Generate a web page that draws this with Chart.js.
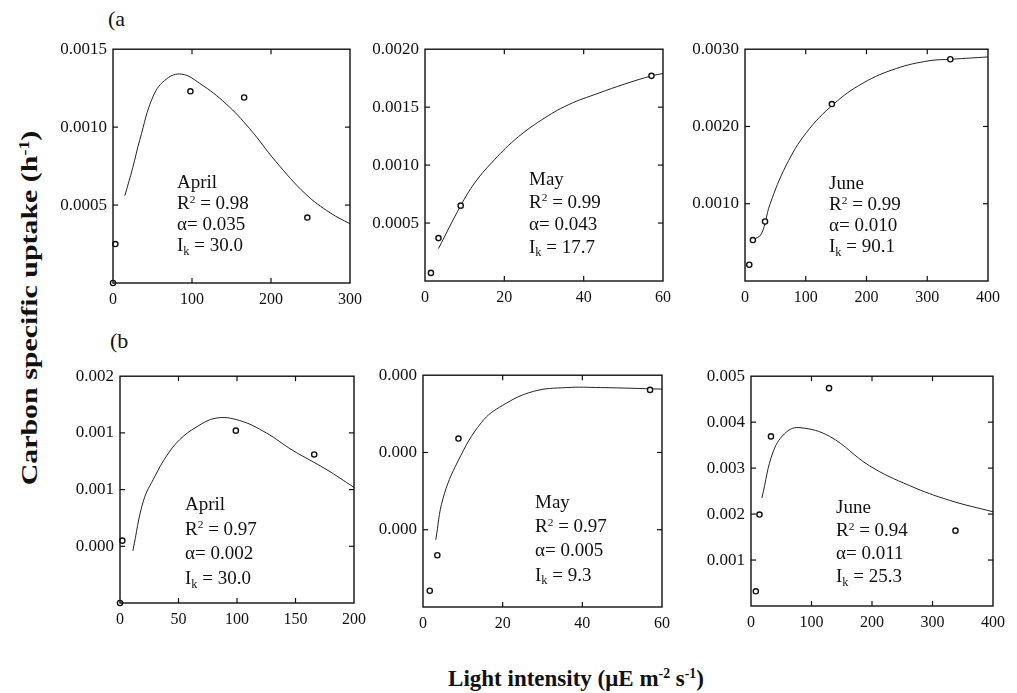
<!DOCTYPE html>
<html>
<head>
<meta charset="utf-8">
<script src="https://cdn.jsdelivr.net/npm/chart.js@4/dist/chart.umd.min.js"></script>
<style>
  html, body { margin: 0; padding: 0; background: #fff; }
  #wrap { position: relative; width: 1017px; height: 693px; overflow: hidden; background: #fff; font-family: "Liberation Serif", "Times New Roman", serif; color: #111; }
  canvas { position: absolute; }
  .ann { position: absolute; font-size: 19px; white-space: nowrap; }
  .ann div { height: var(--lh); line-height: var(--lh); }
  .sup { font-size: 0.6em; position: relative; top: -0.55em; }
  .sub { font-size: 0.65em; position: relative; top: 0.3em; }
  .ytitle { position: absolute; left: 30px; top: 308px; font-weight: bold; font-size: 23px; white-space: nowrap;
            transform: translate(-50%, -50%) rotate(-90deg) scaleX(1.3); }
  .xtitle { position: absolute; left: 576px; top: 666px; font-weight: bold; font-size: 23px; line-height: 26px; white-space: nowrap;
            transform: translateX(-50%); }
  .plabel { position: absolute; font-size: 22px; }
</style>
</head>
<body>
<div id="wrap">
  <div class="plabel" style="left:108px; top:6px;">(a</div>
  <div class="plabel" style="left:110px; top:328px;">(b</div>
  <div class="ytitle">Carbon specific uptake (h<span class="sup">-1</span>)</div>
  <div class="xtitle">Light intensity (μE m<span class="sup">-2</span> s<span class="sup">-1</span>)</div>
</div>
<script>
// ---------- DATA ----------
// (a) April
const aprA_x = [0, 3, 98, 166, 246];
const aprA_y = [0, 0.00025, 0.00123, 0.00119, 0.00042];
const aprA_fitX = [15, 25, 34, 51, 68, 87, 110, 143, 173, 206, 244, 275, 300];
const aprA_fitY = [0.00056, 0.00074, 0.00092, 0.00120, 0.00131, 0.00134, 0.00128, 0.00115, 0.00099, 0.00078, 0.00057, 0.00045, 0.00038];
const aprA_text = ["April", "0.98", "0.035", "30.0"];
// (a) May
const mayA_x = [1.5, 3.4, 9.0, 57.1];
const mayA_y = [0.00007, 0.00037, 0.00065, 0.00177];
const mayA_fitX = [3.4, 9, 12.6, 16.8, 22.7, 29.4, 36.1, 43.7, 50.4, 57.1, 60];
const mayA_fitY = [0.00028, 0.00065, 0.00085, 0.00102, 0.00122, 0.00139, 0.00152, 0.00162, 0.00170, 0.00177, 0.00179];
const mayA_text = ["May", "0.99", "0.043", "17.7"];
// (a) June
const junA_x = [7, 13, 33, 143, 338];
const junA_y = [0.00021, 0.00053, 0.00077, 0.00229, 0.00287];
const junA_fitX = [13, 27, 41, 68, 101, 146, 194, 249, 303, 340, 400];
const junA_fitY = [0.00053, 0.00061, 0.00099, 0.00150, 0.00192, 0.00229, 0.00256, 0.00275, 0.00285, 0.00287, 0.00290];
const junA_text = ["June", "0.99", "0.010", "90.1"];
// (b) April
const aprB_x = [0, 2, 99, 166];
const aprB_y = [0, 0.00055, 0.00152, 0.00131];
const aprB_fitX = [11, 20, 30, 40, 51, 65, 82, 102, 125, 147, 176, 200];
const aprB_fitY = [0.00046, 0.00090, 0.00112, 0.00130, 0.00144, 0.00155, 0.00163, 0.00161, 0.00150, 0.00135, 0.00118, 0.00102];
const aprB_text = ["April", "0.97", "0.002", "30.0"];
// (b) May
const mayB_x = [1.7, 3.6, 8.9, 57];
const mayB_y = [0.000021, 0.000067, 0.000218, 0.000281];
const mayB_fitX = [3.2, 5, 8.8, 14.7, 20, 27.7, 36, 44.5, 60];
const mayB_fitY = [0.000087, 0.00014, 0.000189, 0.000239, 0.000261, 0.000279, 0.000284, 0.000284, 0.000282];
const mayB_text = ["May", "0.97", "0.005", "9.3"];
// (b) June
const junB_x = [8, 14, 33, 129, 338];
const junB_y = [0.00032, 0.00199, 0.00369, 0.00474, 0.00164];
const junB_fitX = [18, 37, 59, 81, 130, 196, 262, 328, 400];
const junB_fitY = [0.00235, 0.00337, 0.00379, 0.00388, 0.00369, 0.00305, 0.00262, 0.00230, 0.00205];
const junB_text = ["June", "0.94", "0.011", "25.3"];

// tick labels
const xTicks300 = ["0", "100", "200", "300"];
const xTicks60 = ["0", "20", "40", "60"];
const xTicks400 = ["0", "100", "200", "300", "400"];
const xTicks200 = ["0", "50", "100", "150", "200"];
const yTicksAprA = ["", "0.0005", "0.0010", "0.0015"];
const yTicksMayA = ["", "0.0005", "0.0010", "0.0015", "0.0020"];
const yTicksJunA = ["", "0.0010", "0.0020", "0.0030"];
const yTicksAprB = ["", "0.000", "0.001", "0.001", "0.002"];
const yTicksMayB = ["", "0.000", "0.000", "0.000"];
const yTicksJunB = ["", "0.001", "0.002", "0.003", "0.004", "0.005"];

// ---------- LAYOUT ----------
const panels = [
  { px: aprA_x, py: aprA_y, fx: aprA_fitX, fy: aprA_fitY, text: aprA_text, xt: xTicks300, yt: yTicksAprA,
    xmax: 300, xstep: 100, ymax: 0.0015, ystep: 0.0005,
    box: { l: 113, t: 45, w: 238, h: 238 }, ann: { l: 177, t: 171, lh: 21 } },
  { px: mayA_x, py: mayA_y, fx: mayA_fitX, fy: mayA_fitY, text: mayA_text, xt: xTicks60, yt: yTicksMayA,
    xmax: 60, xstep: 20, ymax: 0.0020, ystep: 0.0005,
    box: { l: 425, t: 45, w: 238, h: 236 }, ann: { l: 529, t: 168, lh: 22.5 } },
  { px: junA_x, py: junA_y, fx: junA_fitX, fy: junA_fitY, text: junA_text, xt: xTicks400, yt: yTicksJunA,
    xmax: 400, xstep: 100, ymax: 0.0030, ystep: 0.0010,
    box: { l: 745, t: 45, w: 244, h: 236 }, ann: { l: 829, t: 172, lh: 21 } },
  { px: aprB_x, py: aprB_y, fx: aprB_fitX, fy: aprB_fitY, text: aprB_text, xt: xTicks200, yt: yTicksAprB,
    xmax: 200, xstep: 50, ymax: 0.0020, ystep: 0.0005,
    box: { l: 120, t: 372, w: 235, h: 231 }, ann: { l: 185, t: 492, lh: 24.7 } },
  { px: mayB_x, py: mayB_y, fx: mayB_fitX, fy: mayB_fitY, text: mayB_text, xt: xTicks60, yt: yTicksMayB,
    xmax: 60, xstep: 20, ymax: 0.0003, ystep: 0.0001,
    box: { l: 423, t: 371, w: 239, h: 236 }, ann: { l: 535, t: 489.5, lh: 24.4 } },
  { px: junB_x, py: junB_y, fx: junB_fitX, fy: junB_fitY, text: junB_text, xt: xTicks400, yt: yTicksJunB,
    xmax: 400, xstep: 100, ymax: 0.0050, ystep: 0.0010,
    box: { l: 751, t: 372, w: 243, h: 234 }, ann: { l: 836, t: 494.5, lh: 23.3 } }
];

const PAD_L = 75, PAD_T = 12, PAD_R = 18, PAD_B = 34;
const INK = "#111";

const boxPlugin = {
  id: "boxTicks",
  afterDatasetsDraw(chart) {
    const { ctx, chartArea: a, scales: { x, y } } = chart;
    ctx.save();
    ctx.strokeStyle = INK;
    ctx.lineWidth = 1.4;
    ctx.strokeRect(a.left, a.top, a.right - a.left, a.bottom - a.top);
    ctx.lineWidth = 1.2;
    const L = 5;
    const seg = (x1, y1, x2, y2) => { ctx.beginPath(); ctx.moveTo(x1, y1); ctx.lineTo(x2, y2); ctx.stroke(); };
    x.ticks.forEach((t, i) => {
      const p = x.getPixelForTick(i);
      if (p <= a.left + 1 || p >= a.right - 1) return;
      seg(p, a.bottom, p, a.bottom - L);
      seg(p, a.top, p, a.top + L);
    });
    y.ticks.forEach((t, i) => {
      const p = y.getPixelForTick(i);
      if (p <= a.top + 1 || p >= a.bottom - 1) return;
      seg(a.left, p, a.left + L, p);
      seg(a.right, p, a.right - L, p);
    });
    ctx.restore();
  }
};

const wrap = document.getElementById("wrap");

panels.forEach((P) => {
  const cw = P.box.w + PAD_L + PAD_R;
  const ch = P.box.h + PAD_T + PAD_B;
  const cv = document.createElement("canvas");
  cv.width = cw; cv.height = ch;
  cv.style.left = (P.box.l - PAD_L) + "px";
  cv.style.top = (P.box.t - PAD_T) + "px";
  cv.style.width = cw + "px"; cv.style.height = ch + "px";
  wrap.appendChild(cv);

  const pts = P.px.map((v, i) => ({ x: v, y: P.py[i] }));
  const fit = P.fx.map((v, i) => ({ x: v, y: P.fy[i] }));

  new Chart(cv.getContext("2d"), {
    type: "scatter",
    data: {
      datasets: [
        { data: pts, pointRadius: 2.6, pointBorderWidth: 1.4, pointBorderColor: INK, pointBackgroundColor: "#fff",
          showLine: false, clip: false, order: 1 },
        { data: fit, showLine: true, pointRadius: 0, borderWidth: 1, borderColor: "#222",
          tension: 0.4, fill: false, clip: false, order: 2 }
      ]
    },
    options: {
      responsive: false, animation: false, devicePixelRatio: 1,
      layout: { padding: { left: 0, top: PAD_T, right: PAD_R, bottom: 0 } },
      plugins: { legend: { display: false }, tooltip: { enabled: false }, title: { display: false } },
      events: [],
      scales: {
        x: {
          type: "linear", min: 0, max: P.xmax,
          grid: { display: false, drawTicks: false }, border: { display: false },
          ticks: { stepSize: P.xstep, autoSkip: false, maxRotation: 0, padding: 7, color: INK,
                   font: { family: "Liberation Serif", size: 16 },
                   callback: (v, i) => P.xt[i] },
          afterFit: (s) => { s.height = PAD_B; }
        },
        y: {
          type: "linear", min: 0, max: P.ymax,
          grid: { display: false, drawTicks: false }, border: { display: false },
          ticks: { stepSize: P.ystep, autoSkip: false, padding: 6, color: INK,
                   font: { family: "Liberation Serif", size: 17 },
                   callback: (v, i) => P.yt[i] },
          afterFit: (s) => { s.width = PAD_L; }
        }
      }
    },
    plugins: [boxPlugin]
  });

  const ann = document.createElement("div");
  ann.className = "ann";
  ann.style.left = P.ann.l + "px";
  ann.style.top = P.ann.t + "px";
  ann.style.setProperty("--lh", P.ann.lh + "px");
  ann.innerHTML =
    "<div>" + P.text[0] + "</div>" +
    "<div>R<span class=\"sup\">2</span> = " + P.text[1] + "</div>" +
    "<div>α= " + P.text[2] + "</div>" +
    "<div>I<span class=\"sub\">k</span> = " + P.text[3] + "</div>";
  wrap.appendChild(ann);
});
</script>
</body>
</html>
